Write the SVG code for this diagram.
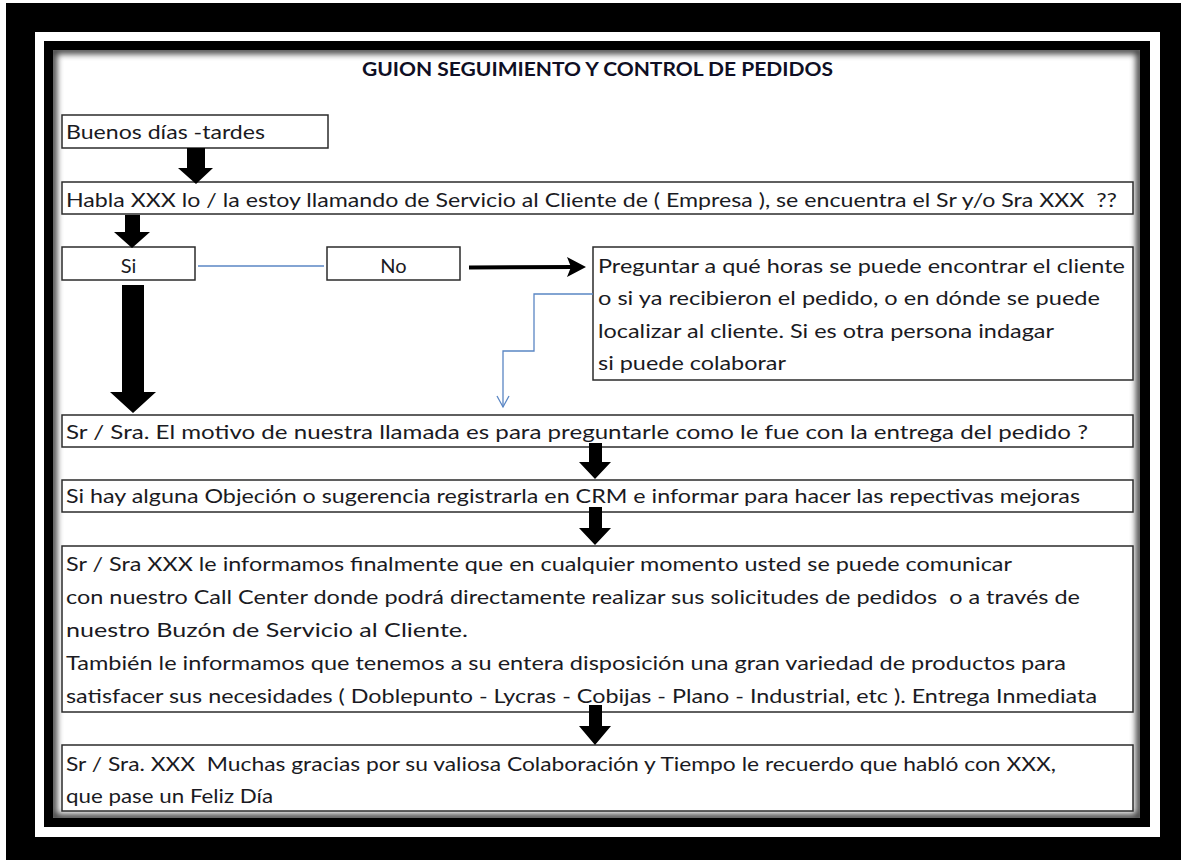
<svg xmlns="http://www.w3.org/2000/svg" width="1181" height="860" viewBox="0 0 1181 860">
<style>
.box{fill:#fff;stroke:#2b2b2b;stroke-width:1.5}
.t{font-family:Lato,"Open Sans","Liberation Sans",sans-serif;font-size:20px;fill:#1a1a22;white-space:pre}
.title{font-family:Lato,"Open Sans","Liberation Sans",sans-serif;font-size:19px;font-weight:bold;fill:#0f0f24;white-space:pre}
.blk{fill:#000}
.blue{fill:none;stroke:#5a86c4;stroke-width:1.3}
</style>
<defs>
<clipPath id="inner"><rect x="53" y="50" width="1087" height="768"/></clipPath>
<filter id="blur" x="-5%" y="-5%" width="110%" height="110%"><feGaussianBlur stdDeviation="3"/></filter>
</defs>
<rect x="0" y="0" width="1181" height="860" fill="#fff"/>
<rect x="6" y="3" width="1175" height="857" fill="#000"/>
<rect x="35" y="32" width="1125" height="805" fill="#fff"/>
<rect x="44" y="41" width="1106" height="786" fill="#000"/>
<rect x="53" y="50" width="1087" height="768" fill="#fff"/>
<g clip-path="url(#inner)"><rect x="53" y="50" width="1087" height="768" fill="none" stroke="#000" stroke-width="8" filter="url(#blur)" opacity="0.75"/></g>

<text id="title" class="title" x="362" y="76" textLength="471" lengthAdjust="spacingAndGlyphs">GUION SEGUIMIENTO Y CONTROL DE PEDIDOS</text>

<g id="n1"><rect class="box" x="62" y="115" width="266" height="33"/><text class="t" x="66" y="139" textLength="199" lengthAdjust="spacingAndGlyphs">Buenos días -tardes</text></g>
<g id="n2"><rect class="box" x="62" y="182" width="1071" height="32"/><text class="t" x="66" y="207" textLength="1051" lengthAdjust="spacingAndGlyphs">Habla XXX lo / la estoy llamando de Servicio al Cliente de ( Empresa ), se encuentra el Sr y/o Sra XXX  ??</text></g>
<g id="n3"><rect class="box" x="62" y="247" width="133" height="33"/><text class="t" x="128.5" y="273" text-anchor="middle">Si</text></g>
<g id="n4"><rect class="box" x="327" y="247" width="133" height="33"/><text class="t" x="393.5" y="273" text-anchor="middle">No</text></g>
<g id="n5"><rect class="box" x="593" y="247" width="540" height="133"/>
<text class="t" x="598" y="273" textLength="527" lengthAdjust="spacingAndGlyphs">Preguntar a qué horas se puede encontrar el cliente</text>
<text class="t" x="598" y="305" textLength="502" lengthAdjust="spacingAndGlyphs">o si ya recibieron el pedido, o en dónde se puede</text>
<text class="t" x="598" y="338" textLength="456" lengthAdjust="spacingAndGlyphs">localizar al cliente. Si es otra persona indagar</text>
<text class="t" x="598" y="370" textLength="188" lengthAdjust="spacingAndGlyphs">si puede colaborar</text></g>
<g id="n6"><rect class="box" x="62" y="415" width="1071" height="32"/><text class="t" x="66" y="439" textLength="1022" lengthAdjust="spacingAndGlyphs">Sr / Sra. El motivo de nuestra llamada es para preguntarle como le fue con la entrega del pedido ?</text></g>
<g id="n7"><rect class="box" x="62" y="480" width="1071" height="32"/><text class="t" x="66" y="503" textLength="1014" lengthAdjust="spacingAndGlyphs">Si hay alguna Objeción o sugerencia registrarla en CRM e informar para hacer las repectivas mejoras</text></g>
<g id="n8"><rect class="box" x="62" y="546" width="1071" height="166"/>
<text class="t" x="66" y="571" textLength="946" lengthAdjust="spacingAndGlyphs">Sr / Sra XXX le informamos finalmente que en cualquier momento usted se puede comunicar</text>
<text class="t" x="66" y="604" textLength="1014" lengthAdjust="spacingAndGlyphs">con nuestro Call Center donde podrá directamente realizar sus solicitudes de pedidos  o a través de</text>
<text class="t" x="66" y="637" textLength="402" lengthAdjust="spacingAndGlyphs">nuestro Buzón de Servicio al Cliente.</text>
<text class="t" x="66" y="670" textLength="1000" lengthAdjust="spacingAndGlyphs">También le informamos que tenemos a su entera disposición una gran variedad de productos para</text>
<text class="t" x="66" y="703" textLength="1031" lengthAdjust="spacingAndGlyphs">satisfacer sus necesidades ( Doblepunto - Lycras - Cobijas - Plano - Industrial, etc ). Entrega Inmediata</text></g>
<g id="n9"><rect class="box" x="62" y="745" width="1071" height="66"/>
<text class="t" x="66" y="771" textLength="990" lengthAdjust="spacingAndGlyphs">Sr / Sra. XXX  Muchas gracias por su valiosa Colaboración y Tiempo le recuerdo que habló con XXX,</text>
<text class="t" x="66" y="803" textLength="207" lengthAdjust="spacingAndGlyphs">que pase un Feliz Día</text></g>

<g id="connectors">
<polygon class="blk" points="187,148 205,148 205,168 213,168 196,184 178,168 187,168"/>
<polygon class="blk" points="125,215 140,215 140,232 150,232 132,248 114,232 125,232"/>
<polygon class="blk" points="122,285 144,285 144,392 156,392 133,413 110,392 122,392"/>
<polygon class="blk" points="589,443 602,443 602,462 611,462 595,479 579,462 589,462"/>
<polygon class="blk" points="589,507 602,507 602,528 611,528 595,545 579,528 589,528"/>
<polygon class="blk" points="589,705 602,705 602,726 611,726 595,745 579,726 589,726"/>
<line x1="469" y1="267.5" x2="574" y2="267" stroke="#000" stroke-width="4"/>
<polygon class="blk" points="586,267 567,257 571,267 567,277"/>
<line class="blue" x1="198" y1="266" x2="324" y2="266"/>
<polyline class="blue" points="593,294 534,294 534,351 503,351 503,407"/>
<polyline class="blue" points="497,396 503,407 509,396"/>
</g>
</svg>
